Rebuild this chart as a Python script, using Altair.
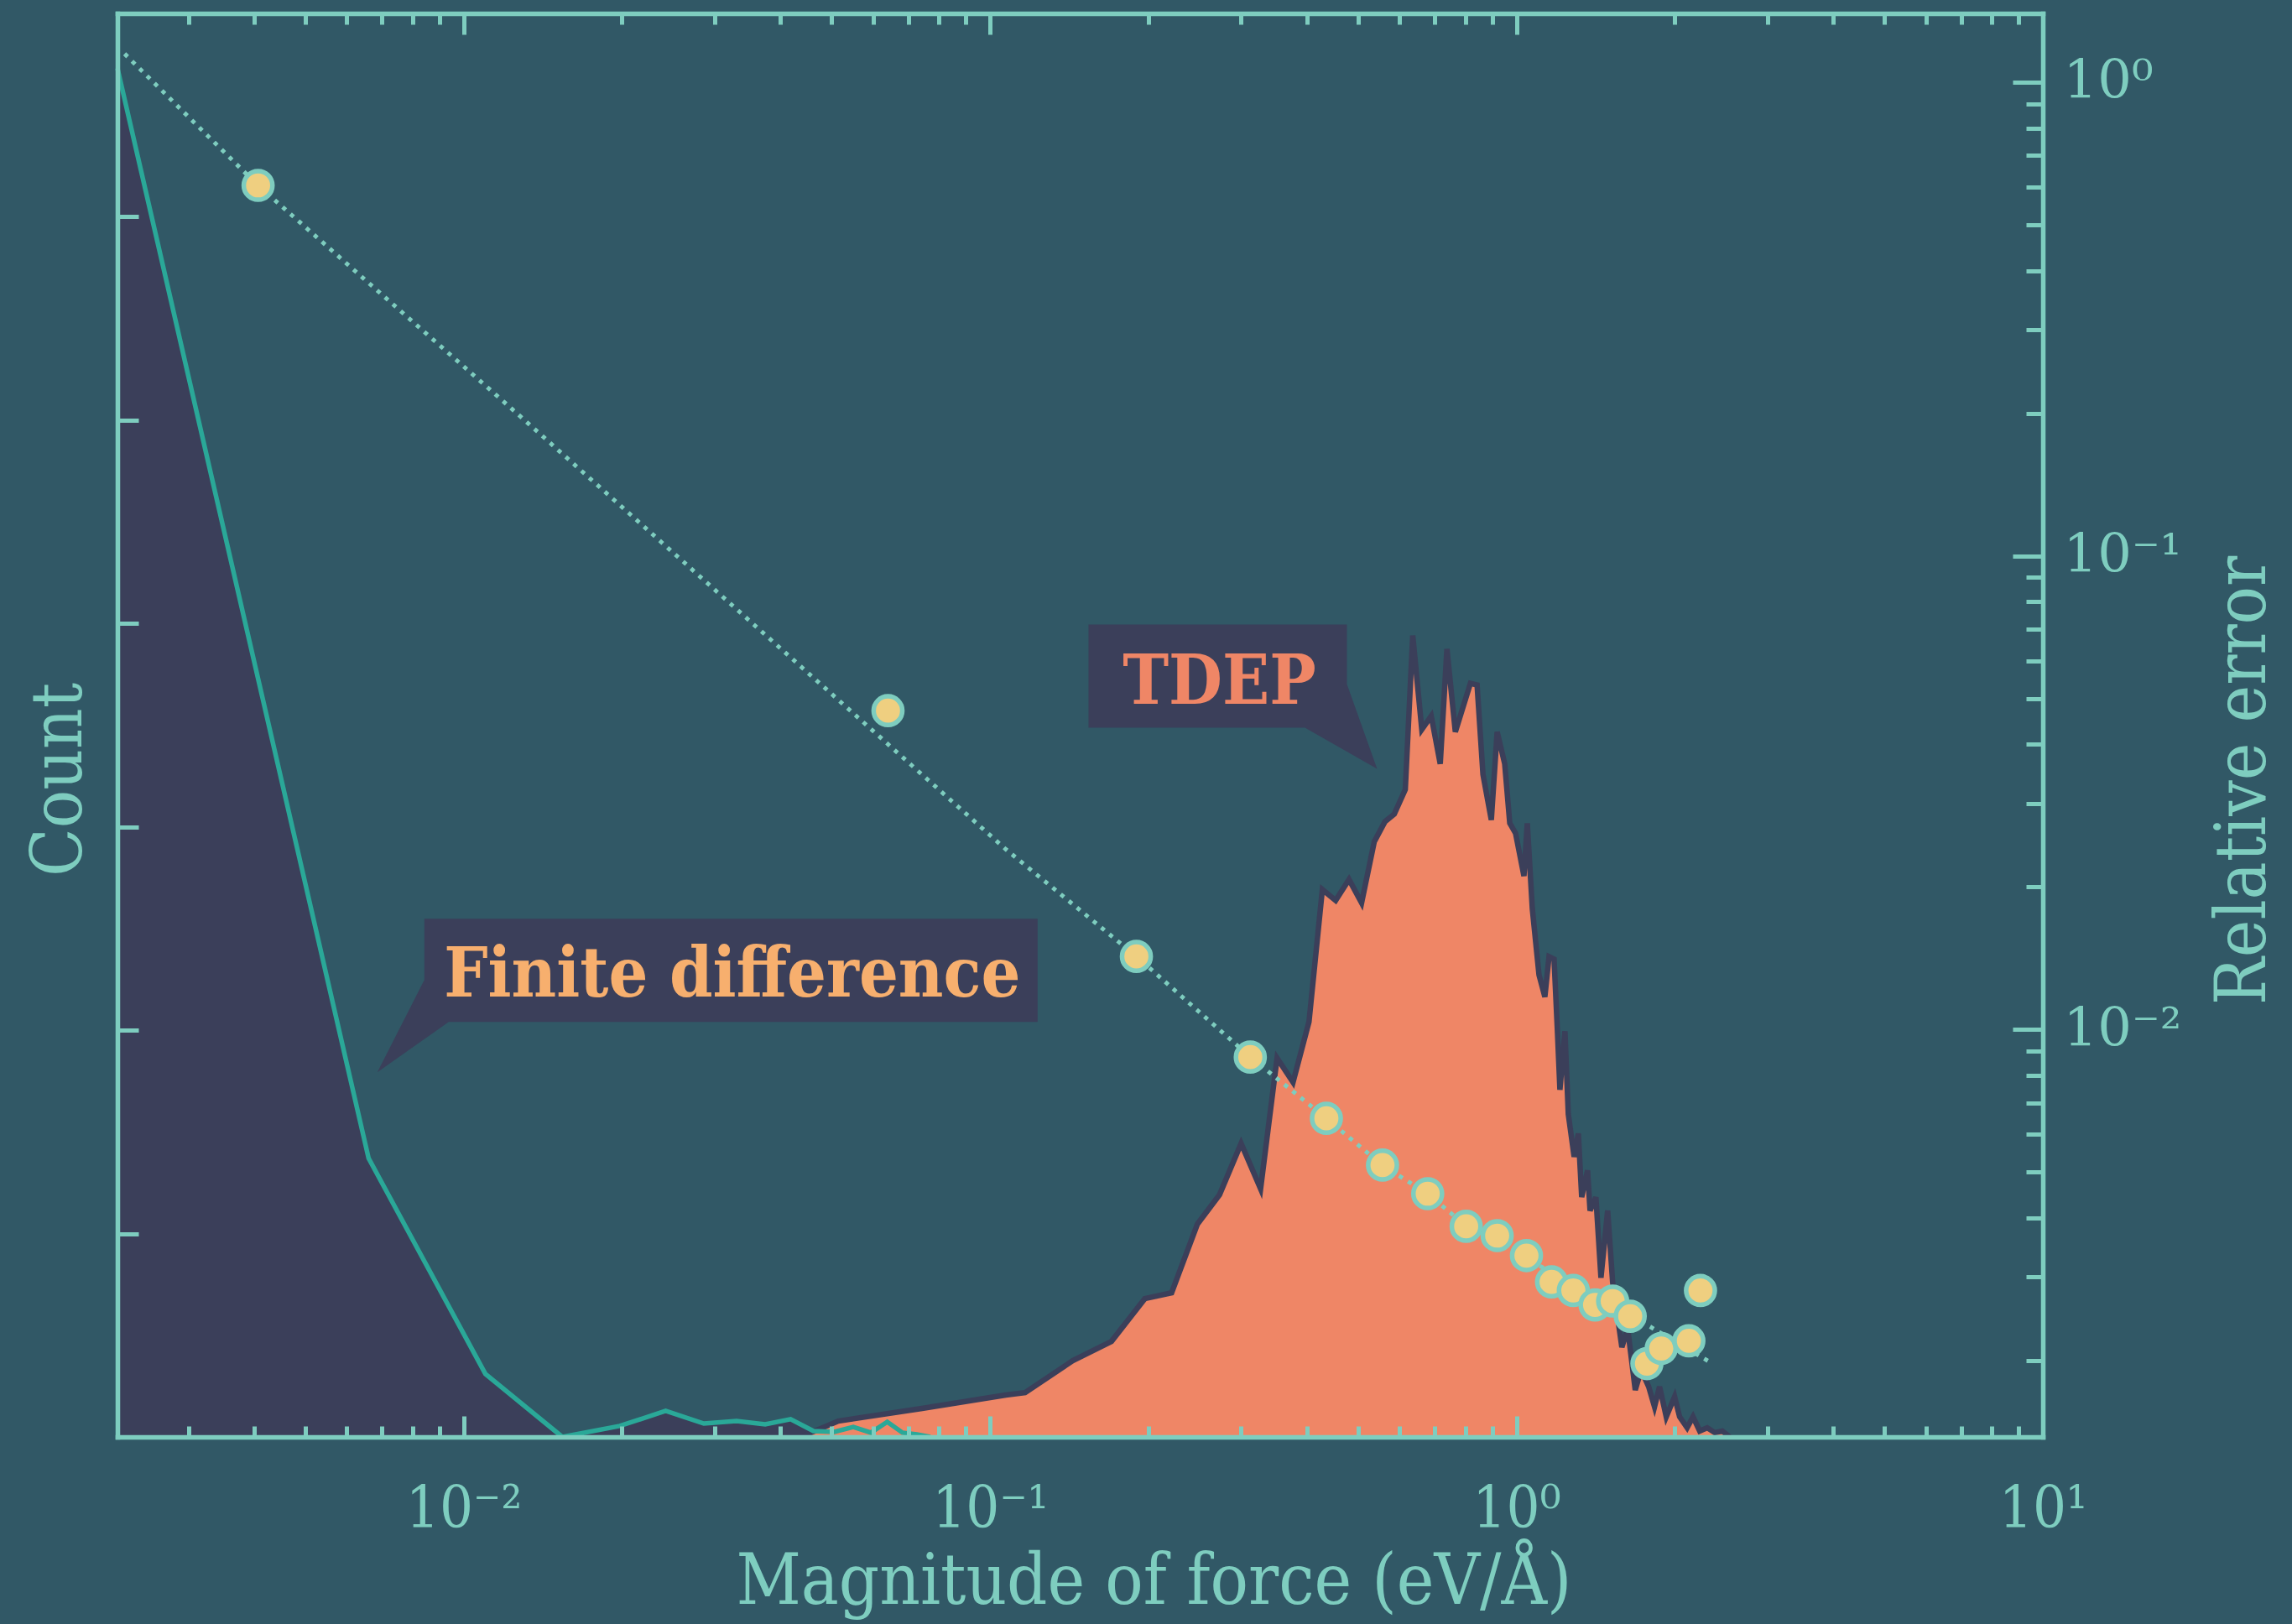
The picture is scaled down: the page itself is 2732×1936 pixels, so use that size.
import altair as alt
import pandas as pd

# ---------------------------------------------------------------------------
# Force-magnitude histograms (eV/Å) and relative error of the force constants
# ---------------------------------------------------------------------------

# Finite-difference displacements: bin centres and counts (thousands)
fd_force = [0.0022, 0.0066, 0.0110, 0.0154, 0.0198, 0.0242, 0.0286, 0.0330, 0.0374,
            0.0418, 0.0462, 0.0506, 0.0550, 0.0594, 0.0638, 0.0682, 0.0726, 0.0770]
fd_count = [6.73, 1.37, 0.31, 0.0, 0.054, 0.128, 0.066, 0.078, 0.062,
            0.087, 0.029, 0.025, 0.049, 0.021, 0.074, 0.021, 0.012, 0.0]

# TDEP (thermal sampling) histogram
tdep_force = [0.0437, 0.0515, 0.0743, 0.1072, 0.1166, 0.1436, 0.1701, 0.1968, 0.2213, 0.2478,
              0.2729, 0.2999, 0.3266, 0.3510, 0.3764, 0.4036, 0.4279, 0.4535, 0.4808, 0.5080,
              0.5370, 0.5628, 0.5861, 0.6150, 0.6354, 0.6610, 0.6889, 0.7166, 0.7379, 0.7655,
              0.8178, 0.8419, 0.8639, 0.8960, 0.9192, 0.9500, 0.9712, 0.9963, 1.0335, 1.0487,
              1.0720, 1.1038, 1.1325, 1.1533, 1.1789, 1.1964, 1.2096, 1.2364, 1.2547, 1.2872,
              1.3110, 1.3305, 1.3650, 1.3801, 1.4158, 1.4475, 1.4904, 1.5234, 1.5860, 1.6271,
              1.6817, 1.7255, 1.7833, 1.8295, 1.8703, 1.9259, 1.9976, 2.0417, 2.1100, 2.1651,
              2.2295, 2.3042, 2.3814, 2.4611, 2.5435]
tdep_count = [0.0, 0.078, 0.140, 0.206, 0.218, 0.375, 0.470, 0.680, 0.709, 1.047,
              1.191, 1.443, 1.220, 1.863, 1.744, 2.041, 2.692, 2.638, 2.741, 2.626,
              2.927, 3.026, 3.063, 3.183, 3.941, 3.479, 3.545, 3.310, 3.875, 3.467,
              3.706, 3.698, 3.257, 3.034, 3.467, 3.310, 3.018, 2.968, 2.758, 3.018,
              2.597, 2.272, 2.164, 2.362, 2.350, 1.995, 1.707, 1.995, 1.587, 1.377,
              1.492, 1.179, 1.311, 1.113, 1.179, 0.783, 1.113, 0.759, 0.441, 0.532,
              0.231, 0.330, 0.247, 0.148, 0.247, 0.099, 0.198, 0.099, 0.045, 0.099,
              0.029, 0.045, 0.021, 0.029, 0.0]

# Fitted relative-error curve
fit_force = [0.00227, 0.00407, 0.01288, 0.1072, 0.1897, 0.312, 0.4355, 0.557, 0.678, 0.804,
             1.641, 2.339]
fit_error = [1.148, 0.605, 0.196, 0.0240, 0.01426, 0.00875, 0.00649, 0.00516, 0.00450, 0.00384,
             0.00250, 0.00198]

# Measured relative errors
pt_force = [0.00407, 0.0640, 0.1897, 0.3122, 0.4355, 0.5567, 0.6784, 0.8027, 0.9192, 1.0449,
            1.1662, 1.2826, 1.4104, 1.5234, 1.645, 1.770, 1.884, 2.126, 2.237]
pt_error = [0.6055, 0.0471, 0.01426, 0.00874, 0.00649, 0.00517, 0.00450, 0.00384, 0.00367, 0.00333,
            0.00293, 0.00281, 0.00262, 0.00267, 0.00248, 0.00197, 0.00212, 0.00220, 0.00281]

# Callout labels, anchored in (force, relative error) space
callout_text = ["Finite difference", "TDEP"]
callout_force = [0.03238, 0.2727]
callout_error = [0.01341, 0.05583]

# ---------------------------------------------------------------------------
BG = "#315866"
AX = "#7ecdbf"
NAVY = "#3b3f5a"
FD_LINE = "#2aa898"
TDEP_FILL = "#ef8666"
PT_FILL = "#efcf80"
FD_TEXT = "#f7af6e"
SERIF_C = "DejaVu Serif Condensed"
SERIF = "DejaVu Serif"

W, H = 2295, 1697
PAD_L, PAD_T = 140, 16

fd_df = pd.DataFrame({"force": fd_force, "count": fd_count})
tdep_df = pd.DataFrame({"force": tdep_force, "count": tdep_count})
fit_df = pd.DataFrame({"force": fit_force, "error": fit_error})
pt_df = pd.DataFrame({"force": pt_force, "error": pt_error})
call_df = pd.DataFrame({"force": callout_force, "error": callout_error, "label": callout_text})

x_scale = alt.Scale(type="log", domain=[0.0022, 10], nice=False)
count_scale = alt.Scale(domain=[0, 7], nice=False, zero=True)
err_scale = alt.Scale(type="log", domain=[0.001379, 1.397], nice=False)

x_major = [0.01, 0.1, 1, 10]
x_minor = [m * d for d in (0.001, 0.01, 0.1, 1) for m in range(2, 10) if 0.0022 < m * d < 10]
err_major = [0.01, 0.1, 1]
err_minor = [m * d for d in (0.001, 0.01, 0.1) for m in range(2, 10) if m * d > 0.001379]
count_major = [1, 2, 3, 4, 5, 6]

sup = "datum.value == 0.01 ? '10⁻²' : datum.value == 0.1 ? '10⁻¹' : datum.value == 1 ? '10⁰' : '10¹'"


def tick_axis(orient, values, length):
    # inward-pointing ticks: pull the axis inside the frame by the tick length
    return alt.Axis(orient=orient, values=values, tickSize=length, offset=-length,
                    ticks=True, tickWidth=5, tickColor=AX, domain=False, labels=False,
                    grid=False, title=None, zindex=1)


def frame_axis(orient, **kw):
    return alt.Axis(orient=orient, domain=True, domainColor=AX, domainWidth=5.5,
                    domainCap="square", ticks=False, tickSize=0, grid=False, zindex=1, **kw)


title_style = dict(titleFont=SERIF_C, titleFontSize=84, titleFontWeight="normal",
                   titleColor=AX, titleAlign="center", titleBaseline="alphabetic")

ax_bottom = frame_axis("bottom", values=x_major, labels=True, labelExpr=sup, labelFont=SERIF_C,
                       labelFontSize=70, labelColor=AX, labelPadding=107,
                       labelBaseline="alphabetic", labelFlush=False, labelOverlap=False,
                       title="Magnitude of force (eV/Å)", titleX=1235, titleY=198,
                       titleAngle=0, **title_style)
ax_top = frame_axis("top", labels=False, title=None)
ax_left = frame_axis("left", labels=False, title="Count", titleX=-44, titleY=913,
                     titleAngle=270, **title_style)
ax_right = frame_axis("right", values=err_major, labels=True, labelExpr=sup, labelFont=SERIF,
                      labelFontSize=64, labelColor=AX, labelPadding=24, labelBaseline="middle",
                      labelOverlap=False, labelFlush=False,
                      title="Relative error", titleX=264, titleY=914, titleAngle=270,
                      **title_style)


def X(axis):
    return alt.X("force:Q", scale=x_scale, axis=axis)


def Yc(axis):
    return alt.Y("count:Q", scale=count_scale, axis=axis)


def Ye(axis):
    return alt.Y("error:Q", scale=err_scale, axis=axis)


# --- histograms (left, linear count axis) ---
fd_fill = alt.Chart(fd_df).mark_area(color=NAVY, opacity=1).encode(
    x=X(ax_bottom), y=Yc(ax_left))
tdep_fill = alt.Chart(tdep_df).mark_area(color=TDEP_FILL, opacity=1).encode(
    x=X(tick_axis("bottom", x_major, 25)), y=Yc(tick_axis("left", count_major, 25)))
tdep_line = alt.Chart(tdep_df).mark_line(color=NAVY, strokeWidth=6.5).encode(
    x=X(tick_axis("bottom", x_minor, 13)), y=Yc(None))
fd_line = alt.Chart(fd_df).mark_line(color=FD_LINE, strokeWidth=5.5).encode(
    x=X(ax_top), y=Yc(None))

hist = alt.layer(fd_fill, tdep_fill, tdep_line, fd_line).resolve_axis(
    x="independent", y="independent")

# --- relative error (right, log axis) ---
fit = alt.Chart(fit_df).mark_line(color=AX, strokeWidth=5, strokeDash=[5, 7.5]).encode(
    x=X(tick_axis("top", x_major, 25)), y=Ye(ax_right))
pts = alt.Chart(pt_df).mark_circle(size=1170, fill=PT_FILL, stroke=AX, strokeWidth=5.5,
                                   opacity=1).encode(
    x=X(tick_axis("top", x_minor, 13)), y=Ye(tick_axis("right", err_major, 36)))

# speech-bubble callouts (path drawn in pixel units around the anchor)
bubble_fd = "M -367 -60 L 364 -60 L 364 63 L -338 63 L -423 123 L -367 13 Z"
bubble_tdep = "M -156 -61 L 152 -61 L 152 10 L 188 111 L 102 62 L -156 62 Z"
bubbles = alt.Chart(call_df).mark_point(size=4, filled=True, color=NAVY, opacity=1,
                                        strokeWidth=0).encode(
    x=X(None), y=Ye(tick_axis("right", err_minor, 20)),
    shape=alt.Shape("label:N", scale=alt.Scale(domain=callout_text,
                                               range=[bubble_fd, bubble_tdep]), legend=None))
texts = alt.Chart(call_df).mark_text(font=SERIF_C, fontSize=82, fontWeight="bold", dy=33,
                                     baseline="alphabetic", align="center").encode(
    x=X(None), y=Ye(None), text="label:N",
    color=alt.Color("label:N", scale=alt.Scale(domain=callout_text,
                                               range=[FD_TEXT, TDEP_FILL]), legend=None))

errs = alt.layer(fit, pts, bubbles, texts).resolve_axis(x="independent", y="independent")

chart = alt.layer(hist, errs).resolve_scale(y="independent").resolve_axis(
    x="independent", y="independent"
).properties(
    width=W, height=H,
    autosize=alt.AutoSizeParams(type="none"),
    padding={"left": PAD_L, "top": PAD_T, "right": 2732 - PAD_L - W, "bottom": 1936 - PAD_T - H},
    background=BG,
).configure_view(strokeWidth=0).configure_axis(grid=False)

chart.save("out.html", embed_options={"renderer": "svg", "actions": False})
